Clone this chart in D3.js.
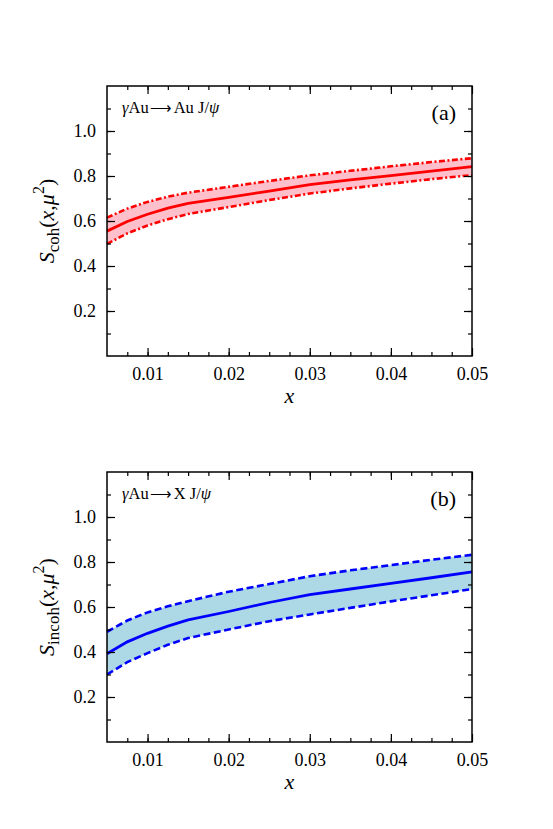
<!DOCTYPE html>
<html><head><meta charset="utf-8">
<script src="https://cdn.jsdelivr.net/npm/d3@7"></script>
<style>body{margin:0;background:#fff}svg{display:block}svg text{font-family:"Liberation Serif","Times New Roman",serif;fill:#000}</style>
</head><body>
<svg id="c" width="553" height="829"></svg>
<script>
const xVals = [0.005,0.0075,0.01,0.0125,0.015,0.02,0.025,0.03,0.035,0.04,0.045,0.05];
const cohCentral = [0.555,0.598,0.630,0.657,0.678,0.705,0.733,0.762,0.783,0.802,0.822,0.842];
const cohUpper   = [0.615,0.655,0.685,0.708,0.726,0.752,0.778,0.803,0.823,0.843,0.862,0.879];
const cohLower   = [0.498,0.545,0.580,0.608,0.631,0.662,0.693,0.722,0.745,0.766,0.786,0.804];
const incCentral = [0.392,0.445,0.483,0.515,0.543,0.580,0.620,0.655,0.680,0.705,0.730,0.756];
const incUpper   = [0.490,0.540,0.576,0.603,0.626,0.668,0.702,0.737,0.763,0.786,0.810,0.832];
const incLower   = [0.300,0.355,0.395,0.432,0.462,0.500,0.537,0.567,0.596,0.625,0.652,0.680];
const xTicks = [0.01,0.02,0.03,0.04,0.05];
const yTicks = [0.2,0.4,0.6,0.8,1.0];

const svg = d3.select("#c");
const W = 365, H = 270, L = 107;
const SERIF = "'Liberation Serif', serif";

function panel(top, cfg){
  const g = svg.append("g").attr("transform",`translate(${L},${top})`);
  const x = d3.scaleLinear().domain([0.005,0.05]).range([0,W]);
  const y = d3.scaleLinear().domain([0,1.2]).range([H,0]);
  const data = xVals.map((v,i)=>({x:v,c:cfg.c[i],u:cfg.u[i],l:cfg.l[i]}));
  g.append("path").datum(data).attr("fill",cfg.fill)
    .attr("d",d3.area().x(d=>x(d.x)).y0(d=>y(d.l)).y1(d=>y(d.u)));
  const line = k=>d3.line().x(d=>x(d.x)).y(d=>y(d[k]));
  ["u","l"].forEach(k=>g.append("path").datum(data).attr("fill","none").attr("stroke",cfg.col)
    .attr("stroke-width",2.6).attr("stroke-dasharray",cfg.dash).attr("d",line(k)));
  g.append("path").datum(data).attr("fill","none").attr("stroke",cfg.col).attr("stroke-width",2.8).attr("d",line("c"));
  g.append("rect").attr("width",W).attr("height",H).attr("fill","none").attr("stroke","#000").attr("stroke-width",1.5);
  const xMinor = d3.range(0.0075,0.05,0.0025);
  const yMinor = d3.range(0.1,1.2,0.1);
  const ax = (axis,sel)=>{sel.call(axis);sel.attr("font-family",SERIF).attr("font-size",18);sel.select(".domain").remove();sel.selectAll("line").attr("stroke","#000").attr("stroke-width",1.2);};
  ax(d3.axisBottom(x).tickValues(xMinor).tickSize(-4).tickFormat(""), g.append("g").attr("transform",`translate(0,${H})`));
  ax(d3.axisTop(x).tickValues(xMinor).tickSize(-4).tickFormat(""), g.append("g"));
  ax(d3.axisLeft(y).tickValues(yMinor).tickSize(-4).tickFormat(""), g.append("g"));
  ax(d3.axisRight(y).tickValues(yMinor).tickSize(-4).tickFormat(""), g.append("g").attr("transform",`translate(${W},0)`));
  const bx = g.append("g").attr("transform",`translate(0,${H})`);
  ax(d3.axisBottom(x).tickValues(xTicks).tickSize(-8).tickPadding(11).tickFormat(d3.format(".2f")), bx);
  ax(d3.axisTop(x).tickValues(xTicks).tickSize(-8).tickFormat(""), g.append("g"));
  const by = g.append("g");
  ax(d3.axisLeft(y).tickValues(yTicks).tickSize(-8).tickPadding(11).tickFormat(d3.format(".1f")), by);
  ax(d3.axisRight(y).tickValues(yTicks).tickSize(-8).tickFormat(""), g.append("g").attr("transform",`translate(${W},0)`));
  g.append("text").attr("x",W/2).attr("y",H+47).attr("text-anchor","middle").attr("font-size",22).attr("font-style","italic").text("x");
  const yl = g.append("text").attr("transform",`translate(-53,${H/2}) rotate(-90)`).attr("text-anchor","middle").attr("font-size",22);
  yl.append("tspan").attr("font-style","italic").text("S");
  yl.append("tspan").attr("font-size",17).attr("dy",5).text(cfg.sub);
  yl.append("tspan").attr("dy",-5).text("(");
  yl.append("tspan").attr("font-style","italic").text("x");
  yl.append("tspan").text(",");
  yl.append("tspan").attr("font-style","italic").text("μ");
  yl.append("tspan").attr("font-size",16).attr("dy",-10).text("2");
  yl.append("tspan").attr("dy",10).text(")");
  const t = g.append("text").attr("x",15).attr("y",27).attr("font-size",16.5);
  t.append("tspan").attr("font-style","italic").text("γ");
  t.append("tspan").text("Au");
  t.append("tspan").attr("font-family","'DejaVu Sans'").attr("font-size",15).attr("font-weight",200).attr("dx",1).text("⟶");
  t.append("tspan").attr("dx",2).text(cfg.proc);
  t.append("tspan").attr("font-style","italic").text("ψ");
  g.append("text").attr("x",W-16).attr("y",34).attr("text-anchor","end").attr("font-size",22).text(cfg.tag);
}

panel(86,{c:cohCentral,u:cohUpper,l:cohLower,fill:"#ffc0cb",col:"#ff0000",dash:"6,2.5,2,2.5",sub:"coh",proc:"Au J/",tag:"(a)"});
panel(472,{c:incCentral,u:incUpper,l:incLower,fill:"#add8e6",col:"#0000ff",dash:"7,3.5",sub:"incoh",proc:"X J/",tag:"(b)"});
</script>
</body></html>
